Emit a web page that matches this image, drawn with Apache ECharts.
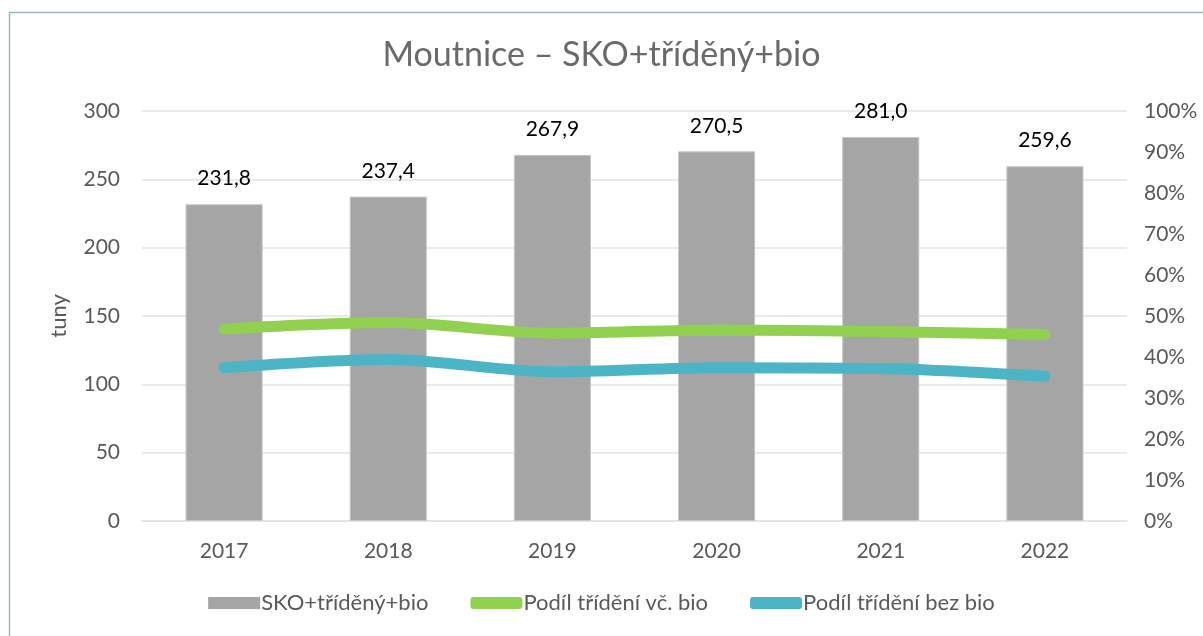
<!DOCTYPE html>
<html>
<head>
<meta charset="utf-8">
<script src="https://cdn.jsdelivr.net/npm/echarts@6/dist/echarts.min.js"></script>
<style>
  html, body { margin: 0; padding: 0; background: #fff; }
  #chart1 { width: 1203px; height: 636px; }
</style>
</head>
<body>
<div id="chart1"></div>
<script>
var years = ['2017', '2018', '2019', '2020', '2021', '2022'];
var celkem = [231.8, 237.4, 267.9, 270.5, 281.0, 259.6];
var podilVcBio = [46.8, 48.4, 45.8, 46.6, 46.2, 45.5];
var podilBezBio = [37.4, 39.4, 36.4, 37.4, 37.2, 35.3];
var leftTicks = [0, 50, 100, 150, 200, 250, 300];

var font = 'Lato, "Noto Sans", sans-serif';
var gray = '#595959';

var myChart = echarts.init(document.getElementById('chart1'));

option = {
  textStyle: { fontFamily: font },
  title: {
    text: 'Moutnice – SKO+tříděný+bio',
    left: 'center',
    top: 33,
    textStyle: { fontFamily: font, fontSize: 34, fontWeight: 'normal', color: '#6a6a6a' }
  },
  graphic: [
    {
      type: 'polyline',
      shape: { points: [[9.5, 636], [9.5, 12.5], [1203, 12.5]] },
      style: { stroke: '#9dbbae', lineWidth: 1.5, fill: null }
    }
  ],
  legend: {
    bottom: 17,
    left: 'center',
    itemGap: 42,
    itemWidth: 52,
    itemHeight: 12,
    textStyle: { fontFamily: font, fontSize: 22, color: gray, padding: [0, 0, 0, -4] },
    data: [
      { name: 'SKO+tříděný+bio', icon: 'rect', itemStyle: { color: '#a5a5a5', borderWidth: 0 } },
      { name: 'Podíl třídění vč. bio', icon: 'roundRect' },
      { name: 'Podíl třídění bez bio', icon: 'roundRect' }
    ]
  },
  grid: { left: 142, right: 76, top: 111, bottom: 115 },
  xAxis: {
    type: 'category',
    data: years,
    axisLine: { lineStyle: { color: '#dfe6e2', width: 1.5 } },
    axisTick: { show: false },
    axisLabel: { fontSize: 21, color: gray, margin: 20, fontFamily: font }
  },
  yAxis: [
    {
      type: 'value',
      min: leftTicks[0],
      max: leftTicks[leftTicks.length - 1],
      interval: 50,
      name: 'tuny',
      nameLocation: 'middle',
      nameGap: 72,
      nameRotate: 90,
      nameTextStyle: { fontSize: 22, color: gray, fontFamily: font },
      axisLine: { show: false },
      axisTick: { show: false },
      axisLabel: { fontSize: 21, color: gray, margin: 22, fontFamily: font },
      splitLine: { lineStyle: { color: '#dfe6e2', width: 1.5 } }
    },
    {
      type: 'value',
      min: 0,
      max: 100,
      interval: 10,
      axisLine: { show: false },
      axisTick: { show: false },
      axisLabel: { fontSize: 21, color: gray, margin: 17, formatter: '{value}%', align: 'left', fontFamily: font },
      splitLine: { show: false }
    }
  ],
  series: [
    {
      name: 'SKO+tříděný+bio',
      type: 'bar',
      data: celkem,
      barWidth: '47%',
      itemStyle: { color: '#a5a5a5', borderColor: '#c8c8c8', borderWidth: 1 },
      label: {
        show: true,
        position: 'top',
        distance: 15,
        fontSize: 21,
        color: '#000',
        fontFamily: font,
        formatter: function (p) { return p.value.toFixed(1).replace('.', ','); }
      }
    },
    {
      name: 'Podíl třídění vč. bio',
      type: 'line',
      yAxisIndex: 1,
      data: podilVcBio,
      smooth: 0.3,
      symbol: 'none',
      color: '#92d050',
      lineStyle: { width: 11, color: '#92d050', cap: 'round' }
    },
    {
      name: 'Podíl třídění bez bio',
      type: 'line',
      yAxisIndex: 1,
      data: podilBezBio,
      smooth: 0.3,
      symbol: 'none',
      color: '#4bb5c6',
      lineStyle: { width: 11, color: '#4bb5c6', cap: 'round' }
    }
  ]
};
myChart.setOption(option);
</script>
</body>
</html>
